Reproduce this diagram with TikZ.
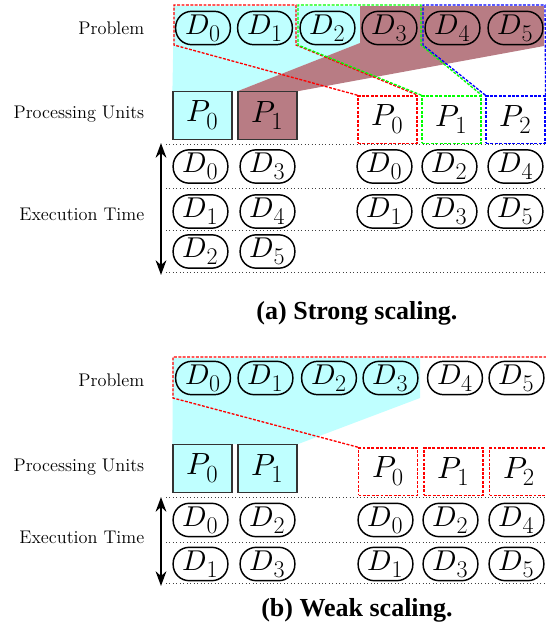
\documentclass[tikz,border=0pt]{standalone}
\usepackage{fontspec}
\usepackage{unicode-math}
\newfontfamily\capfont{Liberation Serif}
\usetikzlibrary{arrows.meta,backgrounds}
\definecolor{lcyan}{RGB}{191,255,255}
\definecolor{lbrown}{RGB}{184,124,132}
\newcommand\Dl[1]{{\fontsize{21.5}{21.5}\selectfont$D_{\mbox{\fontsize{18}{18}\selectfont #1}}$}}
\newcommand\Pl[1]{{\fontsize{23}{23}\selectfont$P_{\mbox{\fontsize{18.5}{18.5}\selectfont #1}}$}}
\tikzset{
  pill/.style={draw, line width=1.1pt, rounded corners=12pt, minimum width=41pt, minimum height=25pt, inner sep=0pt},
  pbox/.style={draw=black!80, line width=0.9pt, minimum width=44.25pt, minimum height=35.5pt, inner sep=0pt},
  dashbox/.style={draw=#1, line width=1pt, dash pattern=on 2.2pt off 1.1pt, minimum width=44.25pt, minimum height=35.5pt, inner sep=0pt},
  rdash/.style={dash pattern=on 2.2pt off 1.1pt, line width=1pt},
  lab/.style={anchor=east, font=\fontsize{13.7}{16}\selectfont},
  dotline/.style={dotted, line width=0.6pt, black!75},
  captext/.style={font=\capfont\bfseries\fontsize{19.5}{22}\selectfont},
  tarrow/.style={{Stealth[length=11pt,width=8pt]}-{Stealth[length=11pt,width=8pt]}, line width=2.1pt}
}
\begin{document}
\begin{tikzpicture}[x=0.75pt,y=-0.75pt]
\useasboundingbox (0,0) rectangle (546,637);
% ---------------- (a) strong scaling
\node[lab] (la1) at (149,28) {Problem};
\node[lab] (la2) at (149,114) {Processing Units};
\node[lab] (la3) at (149,214) {Execution Time};
% problem pills
\node[pill] (ad0) at (203,28) {\Dl0};
\node[pill] (ad1) at (265,28) {\Dl1};
\node[pill] (ad2) at (327.5,28) {\Dl2};
\node[pill] (ad3) at (389.5,28) {\Dl3};
\node[pill] (ad4) at (452.5,28) {\Dl4};
\node[pill] (ad5) at (515.5,28) {\Dl5};
% processing units
\node[pbox, fill=lcyan] (ap0) at (202.5,115.5) {\Pl0};
\node[pbox, fill=lbrown] (ap1) at (267.5,115.5) {\Pl1};
\node[dashbox=red] (aq0) at (387.5,119.5) {\Pl0};
\node[dashbox=green] (aq1) at (451.5,119.5) {\Pl1};
\node[dashbox=blue] (aq2) at (515.5,119.5) {\Pl2};
\begin{scope}[on background layer]
\fill[lcyan] (174,6) -- (360,6) -- (360,43) -- (ap1.north west) -- (ap0.north west) -- cycle;
\fill[lbrown] (360,6) -- (544,6) -- (544,46) -- (ap1.north east) -- (ap1.north west) -- (360,43) -- cycle;
\end{scope}
\draw[red, rdash] (aq0.north west) -- (174,45) -- (174,5) -- (296,5) -- (296,45) -- (aq0.north east);
\draw[green, rdash] (aq1.north west) -- (298,45) -- (298,5) -- (421,5) -- (421,45) -- (aq1.north east);
\draw[blue, rdash] (aq2.north west) -- (423,45) -- (423,5) -- (545,5) -- (aq2.north east);
% execution
\foreach \y in {144,188,230,272} \draw[dotline] (166,\y) -- (546,\y);
\coordinate (at1) at (161,143);
\coordinate (at2) at (161,275);
\draw[tarrow] (at2) -- (at1);
\node[pill] (ae1) at (200.5,166.5) {\Dl0};
\node[pill] (ae2) at (200.5,211.5) {\Dl1};
\node[pill] (ae3) at (200.5,251.5) {\Dl2};
\node[pill] (ae4) at (267.5,166.5) {\Dl3};
\node[pill] (ae5) at (267.5,211.5) {\Dl4};
\node[pill] (ae6) at (267.5,251.5) {\Dl5};
\node[pill] (af1) at (384.5,166.5) {\Dl0};
\node[pill] (af2) at (384.5,211.5) {\Dl1};
\node[pill] (af3) at (449.5,166.5) {\Dl2};
\node[pill] (af4) at (449.5,211.5) {\Dl3};
\node[pill] (af5) at (515.5,166.5) {\Dl4};
\node[pill] (af6) at (515.5,211.5) {\Dl5};
\node[captext] (capa) at (357,313) {(a) Strong scaling.};
% ---------------- (b) weak scaling
\node[lab] (lb1) at (149,380) {Problem};
\node[lab] (lb2) at (149,467) {Processing Units};
\node[lab] (lb3) at (149,537) {Execution Time};
\node[pill] (bd0) at (203,378) {\Dl0};
\node[pill] (bd1) at (265.5,378) {\Dl1};
\node[pill] (bd2) at (329,378) {\Dl2};
\node[pill] (bd3) at (390.5,378) {\Dl3};
\node[pill] (bd4) at (455,378) {\Dl4};
\node[pill] (bd5) at (516.5,378) {\Dl5};
\node[pbox, fill=lcyan] (bp0) at (202.5,468.5) {\Pl0};
\node[pbox, fill=lcyan] (bp1) at (267.5,468.5) {\Pl1};
\node[dashbox=red] (bq0) at (388,471.5) {\Pl0};
\node[dashbox=red] (bq1) at (453.5,471.5) {\Pl1};
\node[dashbox=red] (bq2) at (519,471.5) {\Pl2};
\begin{scope}[on background layer]
\fill[lcyan] (173,358) -- (420,358) -- (420,398) -- (bp1.north east) -- (bp0.north west) -- cycle;
\end{scope}
\draw[red, rdash] (bq0.north west) -- (173,398) -- (173,357) -- (550,357);
\foreach \y in {497,542,583} \draw[dotline] (166,\y) -- (546,\y);
\coordinate (bt1) at (161,497);
\coordinate (bt2) at (161,586);
\draw[tarrow] (bt2) -- (bt1);
\node[pill] (be1) at (200.5,520) {\Dl0};
\node[pill] (be2) at (200.5,564) {\Dl1};
\node[pill] (be3) at (267.5,520) {\Dl2};
\node[pill] (be4) at (267.5,564) {\Dl3};
\node[pill] (bf1) at (385.5,520) {\Dl0};
\node[pill] (bf2) at (385.5,564) {\Dl1};
\node[pill] (bf3) at (450.5,520) {\Dl2};
\node[pill] (bf4) at (450.5,564) {\Dl3};
\node[pill] (bf5) at (516.5,520) {\Dl4};
\node[pill] (bf6) at (516.5,564) {\Dl5};
\node[captext] (capb) at (357,610) {(b) Weak scaling.};
\end{tikzpicture}
\end{document}
